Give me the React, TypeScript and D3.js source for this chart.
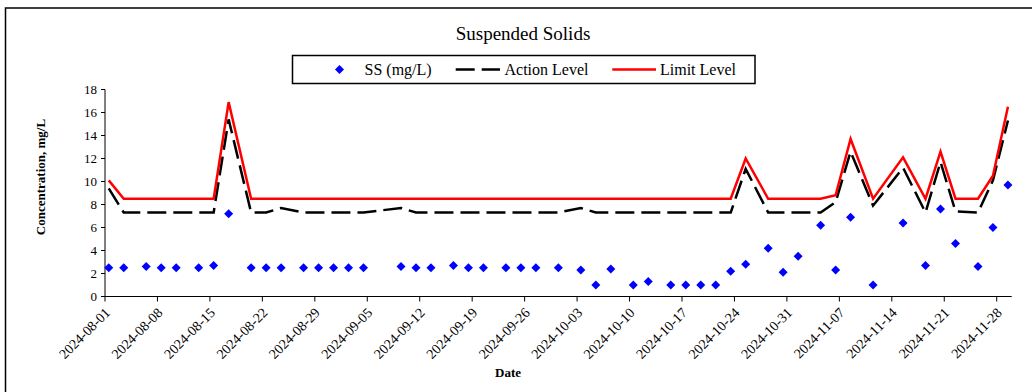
import React from "react";
import * as d3 from "d3";

const dates: string[] = [
  "2024-08-01","2024-08-03","2024-08-06","2024-08-08","2024-08-10","2024-08-13","2024-08-15","2024-08-17",
  "2024-08-20","2024-08-22","2024-08-24","2024-08-27","2024-08-29","2024-08-31","2024-09-02","2024-09-04",
  "2024-09-09","2024-09-11","2024-09-13","2024-09-16","2024-09-18","2024-09-20","2024-09-23","2024-09-25",
  "2024-09-27","2024-09-30","2024-10-03","2024-10-05","2024-10-07","2024-10-10","2024-10-12","2024-10-15",
  "2024-10-17","2024-10-19","2024-10-21","2024-10-23","2024-10-25","2024-10-28","2024-10-30","2024-11-01",
  "2024-11-04","2024-11-06","2024-11-08","2024-11-11","2024-11-15","2024-11-18","2024-11-20","2024-11-22",
  "2024-11-25","2024-11-27","2024-11-29",
];

const ssValues: number[] = [
  2.5,2.5,2.6,2.5,2.5,2.5,2.7,7.2,
  2.5,2.5,2.5,2.5,2.5,2.5,2.5,2.5,
  2.6,2.5,2.5,2.7,2.5,2.5,2.5,2.5,
  2.5,2.5,2.3,1.0,2.4,1.0,1.3,1.0,
  1.0,1.0,1.0,2.2,2.8,4.2,2.1,3.5,
  6.2,2.3,6.9,1.0,6.4,2.7,7.6,4.6,
  2.6,6.0,9.7,
];

const actionLevel: number[] = [
  9.4,7.3,7.3,7.3,7.3,7.3,7.3,15.4,
  7.3,7.3,7.7,7.3,7.3,7.3,7.3,7.3,
  7.7,7.3,7.3,7.3,7.3,7.3,7.3,7.3,
  7.3,7.3,7.7,7.3,7.3,7.3,7.3,7.3,
  7.3,7.3,7.3,7.3,11.1,7.3,7.3,7.3,
  7.3,8.2,12.6,7.9,11.2,7.3,11.7,7.4,
  7.3,10.1,15.3,
];

const limitLevel: number[] = [
  10.1,8.5,8.5,8.5,8.5,8.5,8.5,16.9,
  8.5,8.5,8.5,8.5,8.5,8.5,8.5,8.5,
  8.5,8.5,8.5,8.5,8.5,8.5,8.5,8.5,
  8.5,8.5,8.5,8.5,8.5,8.5,8.5,8.5,
  8.5,8.5,8.5,8.5,12.0,8.5,8.5,8.5,
  8.5,8.8,13.7,8.5,12.1,8.5,12.6,8.5,
  8.5,10.5,16.5,
];

const xTickLabels: string[] = [
  "2024-08-01","2024-08-08","2024-08-15","2024-08-22","2024-08-29","2024-09-05","2024-09-12",
  "2024-09-19","2024-09-26","2024-10-03","2024-10-10","2024-10-17","2024-10-24","2024-10-31",
  "2024-11-07","2024-11-14","2024-11-21","2024-11-28",
];
const yTicks: number[] = [0, 2, 4, 6, 8, 10, 12, 14, 16, 18];

const FONT = "'Liberation Serif', 'Times New Roman', serif";
const W = 1032;
const H = 392;
const left = 105;
const right = 1011.7;
const top = 89.5;
const bottom = 296.5;

const parse = (s: string) => new Date(s + "T00:00:00Z");
const HALF_DAY = 12 * 3600 * 1000;

export default function App() {
  const x = d3.scaleUtc().domain([parse("2024-08-01"), parse("2024-11-30")]).range([left, right]);
  const y = d3.scaleLinear().domain([0, 18]).range([bottom, top]);
  const px = (s: string) => x(new Date(parse(s).getTime() + HALF_DAY));

  const lineGen = (vals: number[]) =>
    d3.line<number>().x((_, i) => px(dates[i])).y((v) => y(v))(vals) || "";

  const diamond = (cx: number, cy: number, r: number) =>
    `M${cx},${cy - r}L${cx + r},${cy}L${cx},${cy + r}L${cx - r},${cy}Z`;

  return (
    <svg width={W} height={H} style={{ position: "absolute", left: 0, top: 0, background: "#fff" }} fontFamily={FONT}>
      <rect x={0} y={0} width={W} height={H} fill="#fff" />
      <rect x={5.5} y={8} width={1040} height={400} fill="none" stroke="#000" strokeWidth={1.5} />
      <text x={523} y={40} fontSize={19} textAnchor="middle">Suspended Solids</text>

      {/* legend */}
      <rect x={292.5} y={55.5} width={462.5} height={28} fill="#fff" stroke="#000" strokeWidth={1.5} />
      <path d={diamond(339.5, 69.5, 4.5)} fill="#0000FF" />
      <text x={364.5} y={74.5} fontSize={16}>SS (mg/L)</text>
      <line x1={455.7} x2={500} y1={69.5} y2={69.5} stroke="#000" strokeWidth={2.5} strokeDasharray="19,7" />
      <text x={504.5} y={74.5} fontSize={16}>Action Level</text>
      <line x1={612.3} x2={656} y1={69.5} y2={69.5} stroke="#FF0000" strokeWidth={2.5} />
      <text x={660} y={74.5} fontSize={16}>Limit Level</text>

      {/* axes */}
      <line x1={left} x2={left} y1={top} y2={bottom} stroke="#000" strokeWidth={1} />
      <line x1={left} x2={right} y1={bottom} y2={bottom} stroke="#000" strokeWidth={1} />
      {yTicks.map((t) => (
        <g key={"y" + t}>
          <line x1={left - 4} x2={left} y1={y(t)} y2={y(t)} stroke="#000" />
          <text x={left - 8} y={y(t) + 4.5} fontSize={13} textAnchor="end">{t}</text>
        </g>
      ))}
      {xTickLabels.map((s) => {
        const tx = x(parse(s));
        return (
          <g key={s}>
            <line x1={tx} x2={tx} y1={bottom} y2={bottom + 5} stroke="#000" />
            <text transform={`translate(${tx + 6},${bottom + 17}) rotate(-45)`} fontSize={14} textAnchor="end">{s}</text>
          </g>
        );
      })}

      <text transform={`translate(45,177) rotate(-90)`} fontSize={13} fontWeight="bold" textAnchor="middle">Concentration, mg/L</text>
      <text x={508} y={377} fontSize={13} fontWeight="bold" textAnchor="middle">Date</text>

      {/* series */}
      <path d={lineGen(actionLevel)} fill="none" stroke="#000" strokeWidth={2.5} strokeDasharray="19,7" />
      <path d={lineGen(limitLevel)} fill="none" stroke="#FF0000" strokeWidth={2.5} />
      {ssValues.map((v, i) => (
        <path key={"p" + i} d={diamond(px(dates[i]), y(v), 4.5)} fill="#0000FF" />
      ))}
    </svg>
  );
}
